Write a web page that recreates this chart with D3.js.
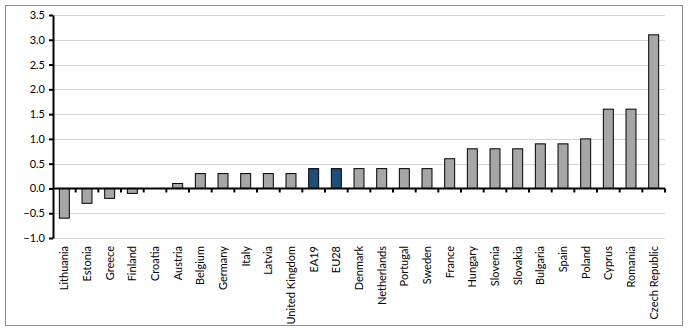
<!DOCTYPE html>
<html>
<head>
<meta charset="utf-8">
<script src="https://cdn.jsdelivr.net/npm/d3@7"></script>
<style>
  html, body { margin: 0; padding: 0; background: #fff; }
  svg { display: block; font-family: Lato, "Open Sans", sans-serif; }
</style>
</head>
<body>
<svg id="chart" width="688" height="330"></svg>
<script>
// Countries and aggregates, sorted by value
const categories = [
  "Lithuania", "Estonia", "Greece", "Finland", "Croatia", "Austria", "Belgium",
  "Germany", "Italy", "Latvia", "United Kingdom", "EA19", "EU28", "Denmark",
  "Netherlands", "Portugal", "Sweden", "France", "Hungary", "Slovenia",
  "Slovakia", "Bulgaria", "Spain", "Poland", "Cyprus", "Romania", "Czech Republic"
];
const values = [
  -0.6, -0.3, -0.2, -0.1, 0.0, 0.1, 0.3,
  0.3, 0.3, 0.3, 0.3, 0.4, 0.4, 0.4,
  0.4, 0.4, 0.4, 0.6, 0.8, 0.8,
  0.8, 0.9, 0.9, 1.0, 1.6, 1.6, 3.1
];
const aggregates = ["EA19", "EU28"];
const yTicks = [-1.0, -0.5, 0.0, 0.5, 1.0, 1.5, 2.0, 2.5, 3.0, 3.5];

const svg = d3.select("#chart");
const plot = { left: 53, right: 665, top: 15, bottom: 238 };

// Outer frame
svg.append("rect")
  .attr("x", 5.5).attr("y", 5.5)
  .attr("width", 677).attr("height", 320)
  .attr("fill", "none").attr("stroke", "#8c8c8c").attr("stroke-width", 1);

const x = d3.scaleBand().domain(categories).range([plot.left, plot.right]).paddingInner(0.56).paddingOuter(0.28);
const xBounds = d3.scaleLinear().domain([0, categories.length]).range([plot.left, plot.right]);
const y = d3.scaleLinear().domain([-1.0, 3.5]).range([plot.bottom, plot.top]);

// Horizontal gridlines
svg.append("g").selectAll("line").data(yTicks.filter(t => t !== 0)).join("line")
  .attr("x1", plot.left).attr("x2", plot.right)
  .attr("y1", d => Math.round(y(d)) + 0.5).attr("y2", d => Math.round(y(d)) + 0.5)
  .attr("stroke", "#d4d4d4").attr("stroke-width", 1.2);

// Bars
const data = categories.map((c, i) => ({ c, v: values[i] }));
svg.append("g").selectAll("rect").data(data.filter(d => d.v !== 0)).join("rect")
  .attr("x", d => x(d.c))
  .attr("width", x.bandwidth())
  .attr("y", d => y(Math.max(0, d.v)))
  .attr("height", d => Math.abs(y(d.v) - y(0)))
  .attr("fill", d => aggregates.includes(d.c) ? "#1f4e79" : "#a6a6a6")
  .attr("stroke", "#000").attr("stroke-width", 1);

// Y axis
const yAxis = d3.axisLeft(y).tickValues(yTicks).tickFormat(d3.format(".1f")).tickSize(4).tickSizeOuter(0);
const gy = svg.append("g").attr("transform", `translate(${plot.left},0)`).call(yAxis);
gy.select(".domain").attr("stroke", "#000").attr("stroke-width", 2);
gy.selectAll(".tick line").attr("stroke", "#000").attr("stroke-width", 2);
gy.selectAll(".tick text").attr("x", -8).attr("font-size", 11).attr("fill", "#000")
  .attr("font-family", "Lato, 'Open Sans', sans-serif");

// Zero line with tick marks at category boundaries
const zeroY = y(0);
svg.append("line")
  .attr("x1", plot.left).attr("x2", plot.right)
  .attr("y1", zeroY).attr("y2", zeroY)
  .attr("stroke", "#000").attr("stroke-width", 2);
svg.append("g").selectAll("line").data(d3.range(1, categories.length + 1)).join("line")
  .attr("x1", d => xBounds(d)).attr("x2", d => xBounds(d))
  .attr("y1", zeroY).attr("y2", zeroY + 4)
  .attr("stroke", "#000").attr("stroke-width", 2);

// Category labels, rotated
svg.append("g").selectAll("text").data(categories).join("text")
  .attr("transform", d => `translate(${x(d) + x.bandwidth() / 2 + 4},246) rotate(-90)`)
  .attr("text-anchor", "end")
  .attr("font-size", 11)
  .attr("fill", "#000")
  .text(d => d);
</script>
</body>
</html>
